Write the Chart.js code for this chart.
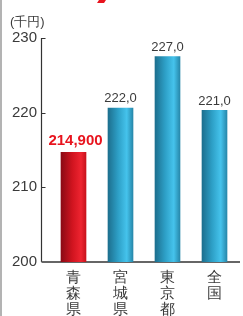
<!DOCTYPE html>
<html>
<head>
<meta charset="utf-8">
<script src="https://cdn.jsdelivr.net/npm/chart.js@4"></script>
<style>
  html, body { margin: 0; padding: 0; background: #fff; }
  #wrap { width: 243px; height: 316px; position: relative; }
</style>
</head>
<body>
<div id="wrap"><canvas id="chart"></canvas></div>
<script>
const categories = [['青', '森', '県'], ['宮', '城', '県'], ['東', '京', '都'], ['全', '国']]
const values = [214.7, 220.6, 227.5, 220.3]
const valueLabels = ['214,900', '222,0', '227,0', '221,0']
const yTicks = [200, 210, 220, 230]
const unitLabel = '(千円)'

const FONT = '"Liberation Sans", Arial, sans-serif'

function barGradient(context) {
    const chart = context.chart
    const area = chart.chartArea
    if (!area) return '#2f9fc8'
    const x = chart.scales.x.getPixelForValue(context.dataIndex)
    const half = 12.5
    const g = chart.ctx.createLinearGradient(x - half, 0, x + half, 0)
    if (context.dataIndex === 0) {
        g.addColorStop(0, '#8a0a14')
        g.addColorStop(0.45, '#d0141f')
        g.addColorStop(0.8, '#ee2430')
        g.addColorStop(1, '#c8121c')
    } else {
        g.addColorStop(0, '#1d6f8e')
        g.addColorStop(0.4, '#2d9fc6')
        g.addColorStop(0.75, '#45c3ec')
        g.addColorStop(1, '#2788ab')
    }
    return g
}

const decorations = {
    id: 'decorations',
    beforeDatasetsDraw(chart) {
        const ctx = chart.ctx
        const area = chart.chartArea
        const y = chart.scales.y
        const axisX = area.left - 8.5
        ctx.save()
        // left page border
        ctx.strokeStyle = '#9a9a9a'
        ctx.lineWidth = 1.5
        ctx.beginPath()
        ctx.moveTo(1, 0)
        ctx.lineTo(1, chart.height)
        ctx.stroke()
        // y axis line and ticks
        ctx.strokeStyle = '#333'
        ctx.lineWidth = 1.2
        ctx.beginPath()
        ctx.moveTo(axisX, y.getPixelForValue(yTicks[yTicks.length - 1]))
        ctx.lineTo(axisX, area.bottom)
        yTicks.slice(1).forEach(t => {
            const py = Math.round(y.getPixelForValue(t)) + 0.5
            ctx.moveTo(axisX, py)
            ctx.lineTo(axisX + 4, py)
        })
        ctx.stroke()
        // x axis line
        ctx.strokeStyle = '#666'
        ctx.lineWidth = 2
        ctx.beginPath()
        ctx.moveTo(axisX, area.bottom)
        ctx.lineTo(area.right + 2, area.bottom)
        ctx.stroke()
        // unit label
        ctx.fillStyle = '#3a3a3a'
        ctx.font = '13px ' + FONT
        ctx.textAlign = 'left'
        ctx.textBaseline = 'middle'
        ctx.fillText(unitLabel, 10, 22)
        // cropped red title stroke at the top
        ctx.fillStyle = '#e8141e'
        ctx.beginPath()
        ctx.moveTo(99, 0)
        ctx.lineTo(106, 0)
        ctx.lineTo(104, 3)
        ctx.lineTo(97, 3)
        ctx.closePath()
        ctx.fill()
        ctx.restore()
    },
    afterDatasetsDraw(chart) {
        const ctx = chart.ctx
        const meta = chart.getDatasetMeta(0)
        ctx.save()
        ctx.textAlign = 'center'
        ctx.textBaseline = 'bottom'
        meta.data.forEach((bar, i) => {
            if (i === 0) {
                ctx.fillStyle = '#e8141e'
                ctx.font = 'bold 15px ' + FONT
                ctx.fillText(valueLabels[i], bar.x + 2, bar.y - 4)
            } else {
                ctx.fillStyle = '#3a3a3a'
                ctx.font = '13px ' + FONT
                ctx.fillText(valueLabels[i], bar.x, bar.y - 3)
            }
        })
        ctx.restore()
    }
}

new Chart(document.getElementById('chart'), {
    type: 'bar',
    data: {
        labels: categories,
        datasets: [{
            data: values,
            backgroundColor: barGradient,
            borderWidth: 0,
            barThickness: 25,
        }],
    },
    options: {
        responsive: true,
        maintainAspectRatio: false,
        animation: false,
        devicePixelRatio: 1,
        layout: { padding: { top: 38, right: 5, left: 0, bottom: 0 } },
        plugins: {
            legend: { display: false },
            tooltip: { enabled: false },
        },
        scales: {
            x: {
                grid: { display: false, drawTicks: false },
                border: { display: false },
                ticks: {
                    color: '#3a3a3a',
                    font: { family: FONT, size: 15, lineHeight: 1.05 },
                    padding: 8,
                    maxRotation: 0,
                    autoSkip: false,
                },
                afterFit: s => { s.height = 54 },
            },
            y: {
                min: 200,
                max: 230,
                grid: { display: false, drawTicks: false },
                border: { display: false },
                ticks: {
                    stepSize: 10,
                    color: '#3a3a3a',
                    font: { family: FONT, size: 15 },
                    padding: 13,
                },
                afterFit: s => { s.width = 50 },
            },
        },
    },
    plugins: [decorations],
})
</script>
</body>
</html>
